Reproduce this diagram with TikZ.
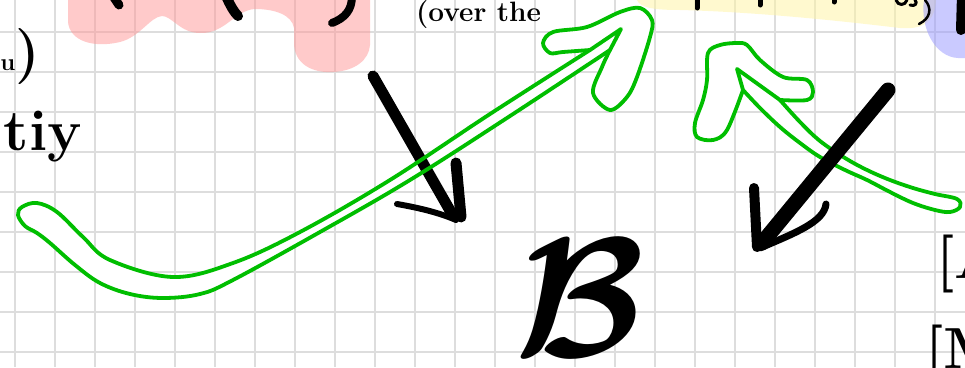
\documentclass[tikz,border=0pt]{standalone}
\usepackage{amsmath,amssymb}
\usepackage{tikz}

\definecolor{penGreen}{RGB}{0,190,0}
\definecolor{gridGray}{RGB}{221,221,221}
\definecolor{hlPink}{RGB}{255,150,150}
\definecolor{hlYellow}{RGB}{255,245,160}
\definecolor{hlBlue}{RGB}{150,150,255}

\tikzset{
  gridline/.style={draw=gridGray,line width=1.4pt},
  marker/.style={fill opacity=0.5},
  inkline/.style={draw=black,line cap=round,line join=round},
  greenline/.style={draw=penGreen,line width=3.8pt,line cap=round,line join=round},
  hollowpart/.style={greenline,fill=white},
  handtext/.style={inner sep=0pt,text=black},
}

% outline of the long green shaft
\newcommand\shaftLong{plot[smooth,tension=.6] coordinates {(590,50) (490,114) (390,180)
  (300,232) (233,263) (173,277) (110,260) (83,237) (57,212) (37,203) (22,207) (18,215)
  (25,226) (37,233) (50,243) (75,265) (100,283) (130,294) (163,298) (200,294) (233,280)
  (320,232) (410,180) (510,116) (610,50)}}

\begin{document}
\begin{tikzpicture}[x=1pt,y=-1pt]
\useasboundingbox (0,0) rectangle (965,367);
\clip (0,0) rectangle (965,367);
\fill[white] (0,0) rectangle (965,367);

% squared paper
\foreach \gx in {15,55,...,935} \draw[gridline] (\gx,0) -- (\gx,367);
\foreach \gy in {32,72,...,352} \draw[gridline] (0,\gy) -- (965,\gy);

% highlighter marks
\fill[hlPink,marker] (68,0) -- (68,22) .. controls (70,42) and (95,48) .. (120,42)
  .. controls (140,37) and (150,17) .. (162,16) .. controls (172,16) and (180,33) .. (200,33)
  .. controls (225,34) and (235,10) .. (255,9) .. controls (275,9) and (292,15) .. (294,28)
  -- (294,45) .. controls (296,68) and (318,73) .. (333,72)
  .. controls (355,71) and (369,60) .. (370,45) -- (370,0) -- cycle;
\fill[hlYellow,marker] (637,0) .. controls (640,8) and (655,10) .. (680,10)
  .. controls (760,12) and (850,22) .. (900,28) .. controls (925,30) and (935,20) .. (936,0) -- cycle;
\fill[hlBlue,marker] (924,0) .. controls (920,28) and (935,57) .. (958,58) -- (965,58) -- (965,0) -- cycle;

% cut-off writing at the top
\draw[inkline,line width=9pt] (113,-4) -- (119,5);
\draw[inkline,line width=10pt] (226,-4) .. controls (230,5) and (234,12) .. (238,16);
\draw[inkline,line width=8pt] (352,-4) .. controls (352,10) and (345,18) .. (332,23);
\draw[inkline,line width=5pt] (697,-3) -- (697,8);
\draw[inkline,line width=5pt] (760,-3) -- (760,5);
\draw[inkline,line width=5pt] (834,-3) -- (834,2);
\draw[inkline,line width=3pt] (896,0) .. controls (898,6) and (905,6) .. (907,0);
\draw[inkline,line width=3pt] (910,5) .. controls (915,7) and (918,3) .. (915,0);
\draw[inkline,line width=2.5pt] (925,0) .. controls (932,8) and (931,18) .. (919,24);
\draw[inkline,line width=10pt] (962,-6) -- (961,30);

\node[handtext,anchor=base east,font=\bfseries\fontsize{56}{56}\selectfont] (noteParen) at (40,70) {{\fontsize{24}{24}\selectfont u})};
\node[handtext,anchor=base east,font=\bfseries\fontsize{58}{58}\selectfont] (noteCity) at (82,150) {tiy};
\node[handtext,anchor=base west,font=\bfseries\fontsize{28}{28}\selectfont] (noteOver) at (416,21) {(over the};

% long green arrow, black arrow under its outline
\fill[white] \shaftLong;
\draw[inkline,line width=11pt] (373,76) -- (452,214);
\draw[inkline,line width=11pt] (456,163) -- (461,217);
\draw[inkline,line width=6pt] (397,204) .. controls (420,208) and (440,213) .. (456,220);
\draw[greenline] \shaftLong;
\filldraw[hollowpart] plot[smooth,tension=.55] coordinates {(590,50) (563,52) (550,53) (543,43)
  (553,32) (587,27) (620,12) (640,8) (652,20) (650,37) (637,77) (627,97) (610,110) (593,93)
  (602,67) (610,50)} -- (621,29) -- cycle;

% short green arrow
\filldraw[hollowpart] plot[smooth,tension=.6] coordinates {(743,90) (760,108) (780,127) (800,143)
  (820,157) (845,170) (867,180) (890,192) (913,203) (935,210) (950,212) (960,207) (957,199)
  (935,194) (913,188) (890,180) (867,170) (845,158) (820,141) (800,122) (780,100)};
\filldraw[hollowpart] plot[smooth,tension=.55] coordinates {(743,90) (727,130) (713,140) (697,137)
  (695,123) (703,100) (707,80) (708,53) (720,45) (737,43) (747,45) (760,60) (783,77) (807,80)
  (813,92) (807,100) (780,100)} -- (737,69) -- cycle;

% black arrow on the right
\draw[inkline,line width=15pt] (888,90) -- (762,243);
\draw[inkline,line width=10pt] (754,188) -- (757,247);
\draw[inkline,line width=7pt] (826,204) .. controls (824,222) and (795,233) .. (760,248);

% letters
\node[handtext,scale=17] (letterB) at (580,298) {$\boldsymbol{\mathcal{B}}$};
\node[handtext,anchor=base west,font=\bfseries\fontsize{58}{58}\selectfont] (tagA) at (936,278) {[A};
\node[handtext,anchor=base west,font=\bfseries\fontsize{58}{58}\selectfont] (tagM) at (925,368) {[M};
\end{tikzpicture}
\end{document}
